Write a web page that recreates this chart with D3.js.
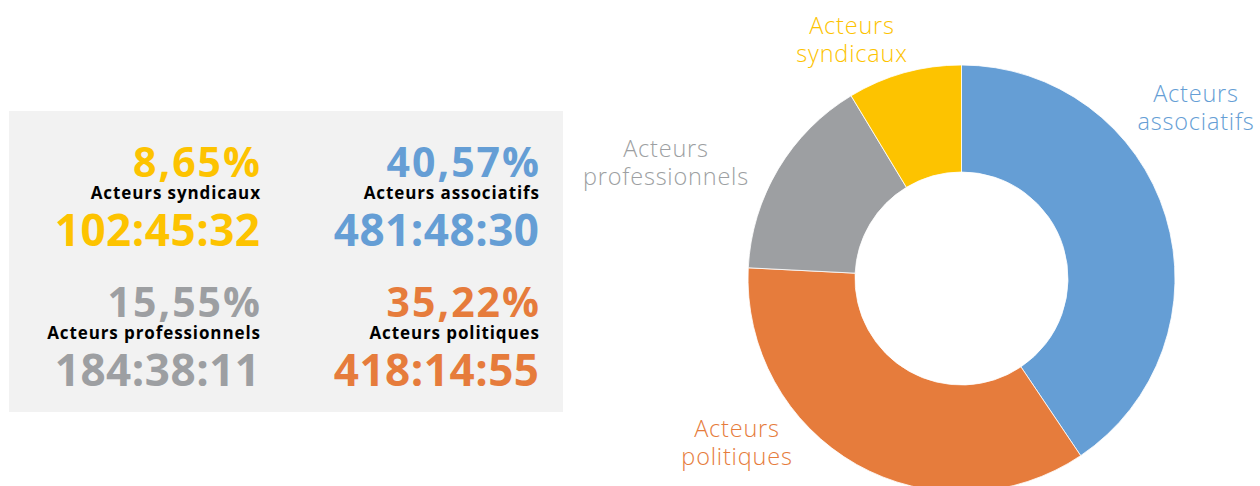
<!DOCTYPE html>
<html>
<head>
<meta charset="utf-8">
<script src="https://cdn.jsdelivr.net/npm/d3@7"></script>
<style>
  html, body { margin: 0; padding: 0; background: #ffffff; }
  svg { display: block; }
</style>
</head>
<body>
<svg id="chart" width="1260" height="486"></svg>
<script>
// ---- data ----
const categories = ["Acteurs associatifs", "Acteurs politiques", "Acteurs professionnels", "Acteurs syndicaux"];
const shares = [40.57, 35.22, 15.55, 8.65];
const percentLabels = ["40,57%", "35,22%", "15,55%", "8,65%"];
const durations = ["481:48:30", "418:14:55", "184:38:11", "102:45:32"];
const colors = ["#659ed5", "#e67c3c", "#9d9fa2", "#fdc300"];
// panel order (reading order in the grey box)
const panelOrder = [3, 0, 2, 1];

const svg = d3.select("#chart");

// ---- summary panel ----
const panel = { x: 9, y: 111, w: 554, h: 301 };
svg.append("rect")
  .attr("x", panel.x).attr("y", panel.y)
  .attr("width", panel.w).attr("height", panel.h)
  .attr("fill", "#f2f2f2");

const colX = d3.scaleOrdinal().domain([0, 1]).range([260, 539]);
const rowY = d3.scaleOrdinal().domain([0, 1]).range([0, 140]);

const boldFont = "'Open Sans', sans-serif";
function endText(g, y, size, ls, color, str) {
  g.append("text")
    .attr("x", ls).attr("y", y)
    .attr("text-anchor", "end")
    .attr("font-family", boldFont).attr("font-weight", 700)
    .attr("font-size", size).attr("letter-spacing", ls)
    .attr("fill", color)
    .text(str);
}
panelOrder.forEach((idx, k) => {
  const col = k % 2, row = Math.floor(k / 2);
  const g = svg.append("g").attr("transform", `translate(${colX(col)},${rowY(row)})`);
  endText(g, 177, 41, 2, colors[idx], percentLabels[idx]);
  endText(g, 199, 17, 0.9, "#000000", categories[idx]);
  endText(g, 246, 44, 0.5, colors[idx], durations[idx]);
});

// ---- donut ----
const cx = 961.5, cy = 278.5, R = 213.5, r = 106.5;
const pie = d3.pie().sort(null).value(d => d);
const arcs = pie(shares);
const arc = d3.arc().innerRadius(r).outerRadius(R);

const donut = svg.append("g").attr("transform", `translate(${cx},${cy})`);
donut.selectAll("path")
  .data(arcs)
  .join("path")
  .attr("d", arc)
  .attr("fill", (d, i) => colors[i])
  .attr("stroke", "#ffffff")
  .attr("stroke-width", 0.8);

// outside labels (two lines each)
const labelPos = [[1196, 102], [737, 437], [666, 157], [852, 34]];
arcs.forEach((a, i) => {
  const parts = categories[i].split(" ");
  const t = svg.append("text")
    .attr("text-anchor", "middle")
    .attr("font-family", "'Open Sans', sans-serif")
    .attr("font-weight", 300)
    .attr("font-size", 23.5)
    .attr("letter-spacing", 0.8)
    .attr("fill", colors[i]);
  t.append("tspan").attr("x", labelPos[i][0]).attr("y", labelPos[i][1]).text(parts[0]);
  t.append("tspan").attr("x", labelPos[i][0]).attr("y", labelPos[i][1] + 28).text(parts[1]);
});
</script>
</body>
</html>
